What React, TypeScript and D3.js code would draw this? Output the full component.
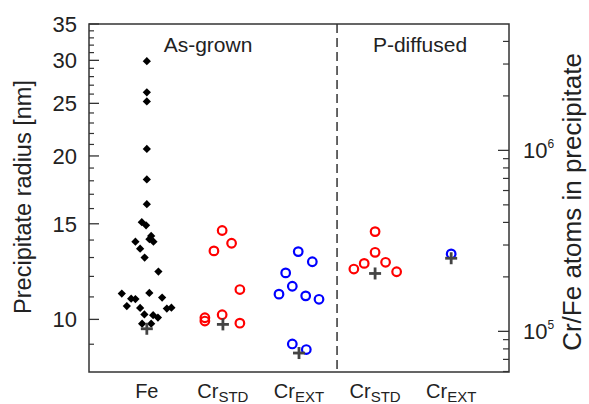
import React from 'react'
import { scaleLinear, scaleLog, symbol, symbolSquare } from 'd3'

// radius values [nm], jitter is the sideways spread in category units
const feRadius = [29.9, 26.2, 25.2, 20.6, 18.1, 16.3, 15.1, 14.9, 14.25, 14.05, 13.9, 13.9, 13.5, 13.0, 12.25,
    11.16, 10.92, 10.9, 11.19, 10.97, 10.58, 10.5, 10.47, 10.51, 10.21, 10.18, 10.08, 9.82, 9.82]
const feJitter = [0, 0, 0, 0, 0, 0, -0.066, -0.01, 0.057, 0.034, 0.087, -0.15, -0.088, -0.029, 0.152,
    -0.329, -0.206, -0.15, 0.033, 0.201, -0.263, -0.088, 0.263, 0.323, -0.032, 0.083, 0.146, -0.062, 0.057]

const crStdRadius = [14.58, 13.81, 13.37, 11.35, 10.07, 9.93, 10.2, 9.84]
const crStdJitter = [-0.01, 0.114, -0.118, 0.223, -0.237, -0.237, -0.01, 0.223]

const crExtRadius = [13.33, 12.77, 12.18, 11.51, 11.13, 11.05, 10.89, 9.01, 8.8]
const crExtJitter = [-0.01, 0.175, -0.175, -0.088, -0.263, 0.088, 0.263, -0.088, 0.096]

const pCrStdRadius = [14.51, 13.29, 12.68, 12.74, 12.38, 12.24]
const pCrStdJitter = [0, 0, -0.143, 0.138, -0.279, 0.283]

const pCrExtRadius = [13.2]
const pCrExtJitter = [0]

// the grey crosses
const meanRadius = [9.61, 9.79, 8.67, 12.15, 12.96]

const catMain = ['Fe', 'Cr', 'Cr', 'Cr', 'Cr']
const catSub = ['', 'STD', 'EXT', 'STD', 'EXT']

const leftTicks = [10, 15, 20, 25, 30, 35]
const rightTicks = [1e5, 1e6]

// atoms = 4/3 pi r^3 * density
const ATOM_DENSITY = 27.8

const W = 589, H = 404
const margin = { top: 24, right: 80, bottom: 32, left: 89 }
const FONT = '"Liberation Sans", Arial, Helvetica, sans-serif'

const toAtoms = (r: number) => (4 / 3) * Math.PI * r * r * r * ATOM_DENSITY

export default function App() {
    const x0 = margin.left, x1 = W - margin.right
    const y0 = H - margin.bottom, y1 = margin.top

    const xScale = scaleLinear().domain([0.24, 5.76]).range([x0, x1])
    const yScale = scaleLog().domain([8, 35]).range([y0, y1])
    const yRight = scaleLog().domain([toAtoms(8), toAtoms(35)]).range([y0, y1])

    const leftMinor: number[] = []
    for (let v = 9; v < 35; v++) if (!leftTicks.includes(v)) leftMinor.push(v)

    const rightMinor: number[] = []
    const [ra, rb] = yRight.domain()
    for (let dec = 1e4; dec <= 1e6; dec *= 10) {
        for (let k = 2; k <= 9; k++) {
            const v = k * dec
            if (v > ra && v < rb) rightMinor.push(v)
        }
    }

    const diamond = symbol().type(symbolSquare).size(34)()

    const circles = (radius: number[], jitter: number[], cat: number, color: string) =>
        radius.map((r, i) => (
            <circle key={`${cat}-${i}`} cx={xScale(cat + jitter[i])} cy={yScale(r)} r={4.3}
                fill='none' stroke={color} strokeWidth={2.2} />
        ))

    return (
        <svg width={W} height={H} style={{ position: 'absolute', left: 0, top: 0, background: '#fff' }}
            fontFamily={FONT}>
            {/* left ticks */}
            {leftTicks.map(t => (
                <g key={'lt' + t}>
                    <line x1={x0} x2={x0 + 10} y1={yScale(t)} y2={yScale(t)} stroke='#333' strokeWidth={1.3} />
                    <text x={x0 - 12} y={yScale(t)} dy='0.36em' textAnchor='end' fontSize={22} fill='#222'>{t}</text>
                </g>
            ))}
            {leftMinor.map(t => (
                <line key={'lm' + t} x1={x0} x2={x0 + 5} y1={yScale(t)} y2={yScale(t)} stroke='#333' strokeWidth={1.2} />
            ))}

            {/* right ticks */}
            {rightTicks.map((t, i) => (
                <g key={'rt' + t}>
                    <line x1={x1 - 11} x2={x1} y1={yRight(t)} y2={yRight(t)} stroke='#333' strokeWidth={1.3} />
                    <text x={x1 + 14} y={yRight(t)} dy='0.36em' fontSize={22} fill='#222'>
                        10<tspan fontSize={12} dy={-10}>{i + 5}</tspan>
                    </text>
                </g>
            ))}
            {rightMinor.map(t => (
                <line key={'rm' + t} x1={x1 - 6} x2={x1} y1={yRight(t)} y2={yRight(t)} stroke='#333' strokeWidth={1.2} />
            ))}

            {/* separator between as-grown and P-diffused */}
            <line x1={xScale(3.5)} x2={xScale(3.5)} y1={y1} y2={y0} stroke='#333' strokeWidth={1.5} strokeDasharray='9,5' />

            {/* frame */}
            <rect x={x0} y={y1} width={x1 - x0} height={y0 - y1} fill='none' stroke='#333' strokeWidth={1.5} />

            <text x={208} y={52} textAnchor='middle' fontSize={21} fill='#222'>As-grown</text>
            <text x={420} y={52} textAnchor='middle' fontSize={21} fill='#222'>P-diffused</text>

            {/* Fe diamonds */}
            {feRadius.map((r, i) => (
                <path key={'fe' + i} d={diamond ?? ''} fill='#000'
                    transform={`translate(${xScale(1 + feJitter[i])},${yScale(r)}) rotate(45)`} />
            ))}

            {circles(crStdRadius, crStdJitter, 2, '#ff0000')}
            {circles(crExtRadius, crExtJitter, 3, '#0000ff')}
            {circles(pCrStdRadius, pCrStdJitter, 4, '#ff0000')}
            {circles(pCrExtRadius, pCrExtJitter, 5, '#0000ff')}

            {/* crosses */}
            {meanRadius.map((r, i) => {
                const cx = xScale(i + 1), cy = yScale(r)
                return (
                    <g key={'m' + i} stroke='#444' strokeWidth={2.8}>
                        <line x1={cx - 6} x2={cx + 6} y1={cy} y2={cy} />
                        <line x1={cx} x2={cx} y1={cy - 6} y2={cy + 6} />
                    </g>
                )
            })}

            {/* category labels */}
            {catMain.map((c, i) => (
                <text key={'c' + i} x={xScale(i + 1)} y={398} textAnchor='middle' fontSize={20} fill='#222'>
                    {c}
                    {catSub[i] && <tspan fontSize={15} dy={4}>{catSub[i]}</tspan>}
                </text>
            ))}

            {/* axis titles */}
            <text transform={`translate(31,${(y0 + y1) / 2 - 1}) rotate(-90)`} textAnchor='middle' fontSize={23.5} fill='#222'>
                Precipitate radius [nm]
            </text>
            <text transform={`translate(581,${(y0 + y1) / 2 + 4}) rotate(-90)`} textAnchor='middle' fontSize={26} fill='#222'>
                Cr/Fe atoms in precipitate
            </text>
        </svg>
    )
}
